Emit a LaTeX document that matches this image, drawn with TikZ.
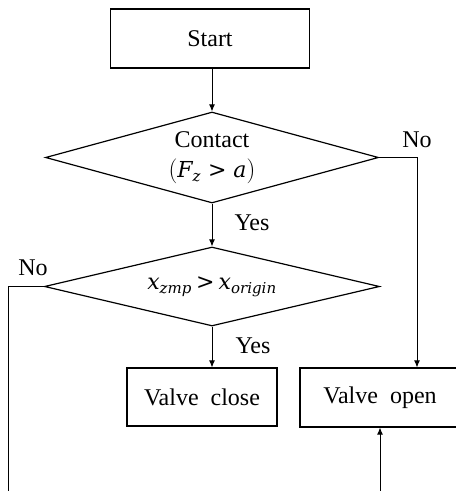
\documentclass[tikz,border=0pt]{standalone}
\usepackage{fontspec}
\setmainfont{Liberation Serif}
\newfontfamily\mvarfont{DejaVu Serif}
\newcommand\mv[1]{\hbox{\fontsize{22}{26}\selectfont\mvarfont\itshape #1}}
\newcommand\ms[1]{\hbox{\fontsize{15}{18}\selectfont\mvarfont\itshape #1}}
\newcommand\mgt{\hbox{\fontsize{22}{26}\selectfont\mvarfont >}}
\usetikzlibrary{shapes.geometric,arrows.meta}
\begin{document}
\begin{tikzpicture}[x=1pt,y=-1pt,
  font=\fontsize{24}{32}\selectfont,
  box/.style={draw,line width=1.2pt,rectangle,inner sep=0pt,align=center},
  decision/.style={draw,line width=1.2pt,diamond,inner sep=0pt,align=center},
  flow/.style={line width=0.9pt,-{Latex[length=7pt,width=6pt]}},
  plain/.style={line width=0.9pt},
  lbl/.style={inner sep=0pt}]
\useasboundingbox (0,0) rectangle (456,491);
\node[box,minimum width=199pt,minimum height=59pt] (start) at (210,38.5) {Start};
\node[decision,minimum width=333pt,minimum height=91pt,aspect=3.66] (d1) at (212,157.5)
  {\raisebox{-2pt}{Contact}\\$(\mv{F}_{\ms{z}}\;\mgt\;\mv{a})$};
\node[decision,minimum width=335pt,minimum height=79pt,aspect=4.2] (d2) at (212,286.5)
  {\raisebox{-5pt}{$\mv{x}_{\ms{zmp}}\,\mgt\,\mv{x}_{\ms{origin}}$}};
\node[box,minimum width=150pt,minimum height=58pt] (close) at (202,397) {Valve\ \ close};
\node[box,minimum width=160pt,minimum height=59pt] (open) at (380,397.5) {Valve\ \ open};
\node[lbl] (no1) at (417,140) {No};
\node[lbl] (yes1) at (252,223) {Yes};
\node[lbl] (no2) at (33,268) {No};
\node[lbl] (yes2) at (253,346) {Yes};
\coordinate (r1) at (417,157.5);
\coordinate (l1) at (8,286.5);
\coordinate (lb) at (8,491);
\coordinate (ob) at (380,491);
\draw[flow] (d1.north |- start.south) -- (d1.north);
\draw[flow] (d1.south) -- (d2.north);
\draw[flow] (d2.south) -- (d2.south |- close.north);
\draw[flow] (d1.east) -- (r1) -- (r1 |- open.north);
\draw[plain] (d2.west) -- (l1) -- (lb);
\draw[flow] (ob) -- (open.south);
\end{tikzpicture}
\end{document}
